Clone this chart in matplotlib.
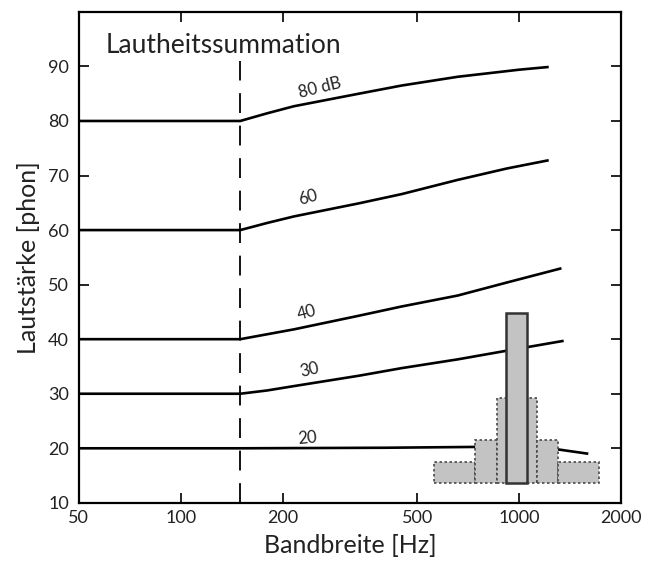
"""
Lautheitssummation: loudness level vs. bandwidth for several sound pressure levels,
with a small spectrum sketch (critical-band bars) near 1 kHz.
"""

import matplotlib
matplotlib.use("Agg")
import matplotlib.pyplot as plt
from matplotlib.ticker import FixedLocator, NullLocator


# loudness curves: bandwidth [Hz] and loudness level [phon]
FREQ_80 = [50, 150, 180, 216, 336, 450, 658, 1000, 1222]
LEVEL_80 = [80, 80, 81.4, 82.7, 85.0, 86.5, 88.1, 89.4, 89.9]

FREQ_60 = [50, 150, 180, 216, 336, 450, 658, 921, 1222]
LEVEL_60 = [60, 60, 61.3, 62.5, 64.9, 66.6, 69.2, 71.3, 72.8]

FREQ_40 = [50, 150, 180, 216, 336, 450, 658, 921, 1333]
LEVEL_40 = [40, 40, 40.9, 41.8, 44.3, 46.0, 48.0, 50.4, 53.0]

FREQ_30 = [50, 150, 180, 216, 336, 450, 658, 921, 1353]
LEVEL_30 = [30, 30, 30.6, 31.4, 33.3, 34.7, 36.3, 37.9, 39.7]

FREQ_20 = [50, 150, 400, 900, 1300, 1600]
LEVEL_20 = [20, 20, 20.1, 20.3, 19.8, 19.0]

CURVES = [
    (FREQ_80, LEVEL_80),
    (FREQ_60, LEVEL_60),
    (FREQ_40, LEVEL_40),
    (FREQ_30, LEVEL_30),
    (FREQ_20, LEVEL_20),
]

# curve labels: text, bandwidth, level, rotation
CURVE_LABELS = ["80 dB", "60", "40", "30", "20"]
LABEL_FREQ = [258, 238, 236, 241, 237]
LABEL_LEVEL = [86.0, 66.0, 44.8, 34.4, 21.8]
LABEL_ROT = [14, 16, 15, 13, 5]

# critical band edge
CRITICAL_BAND = 150

# spectrum sketch (bars)
BAR_EDGES = [560, 740, 860, 1130, 1300, 1720]
BAR_TOPS = [17.5, 21.5, 29.3, 21.5, 17.5]
CENTER_BAR = (915, 1055)
CENTER_TOP = 44.8
BAR_BOTTOM = 13.7

X_TICKS = [50, 100, 200, 500, 1000, 2000]
Y_TICKS = [10, 20, 30, 40, 50, 60, 70, 80, 90]

FONT = ["Lato", "DejaVu Sans"]


def main():
    plt.rcParams["font.family"] = FONT

    fig = plt.figure(figsize=(6.45, 5.65), dpi=100)
    ax = fig.add_axes([0.122, 0.110, 0.841, 0.869])
    ax.set_xscale("log")
    ax.set_xlim(50, 2000)
    ax.set_ylim(10, 100)

    for freq, level in CURVES:
        ax.plot(freq, level, color="black", linewidth=1.9, solid_capstyle="butt",
                solid_joinstyle="round", zorder=2)

    for text, f, lev, rot in zip(CURVE_LABELS, LABEL_FREQ, LABEL_LEVEL, LABEL_ROT):
        ax.text(f, lev, text, rotation=rot, ha="center", va="center",
                fontsize=12, color="#222222", rotation_mode="anchor")

    ax.plot([CRITICAL_BAND, CRITICAL_BAND], [10, 91], color="black",
            linewidth=1.3, linestyle=(0, (11, 7)), zorder=2)

    # side bars of the spectrum, dotted outline
    lefts = BAR_EDGES[:-1]
    widths = [r - l for l, r in zip(BAR_EDGES[:-1], BAR_EDGES[1:])]
    heights = [t - BAR_BOTTOM for t in BAR_TOPS]
    ax.bar(lefts, heights, width=widths, bottom=BAR_BOTTOM, align="edge",
           color="#c3c3c3", edgecolor="#4a4a4a", linewidth=1.2,
           linestyle=(0, (1.5, 1.5)), zorder=3)

    # central bar, solid outline
    ax.bar(CENTER_BAR[0], CENTER_TOP - BAR_BOTTOM, width=CENTER_BAR[1] - CENTER_BAR[0],
           bottom=BAR_BOTTOM, align="edge", color="#c3c3c3", edgecolor="#333333",
           linewidth=1.8, zorder=4)

    ax.text(60, 93.8, "Lautheitssummation", fontsize=19, color="#222222",
            ha="left", va="center")

    ax.xaxis.set_major_locator(FixedLocator(X_TICKS))
    ax.xaxis.set_minor_locator(NullLocator())
    ax.set_xticklabels([str(t) for t in X_TICKS])
    ax.set_yticks(Y_TICKS)

    ax.tick_params(axis="both", which="major", direction="in", length=7, width=1.4,
                   top=True, right=True, labelsize=13, colors="#222222")
    ax.tick_params(axis="x", pad=5)
    ax.tick_params(axis="y", pad=7)

    for spine in ax.spines.values():
        spine.set_linewidth(1.6)

    ax.set_xlabel("Bandbreite [Hz]", fontsize=18, color="#222222", labelpad=6)
    ax.set_ylabel("Lautstärke [phon]", fontsize=18, color="#222222", labelpad=6)

    fig.savefig("out.png", dpi=100)
    plt.close(fig)


if __name__ == "__main__":
    main()
